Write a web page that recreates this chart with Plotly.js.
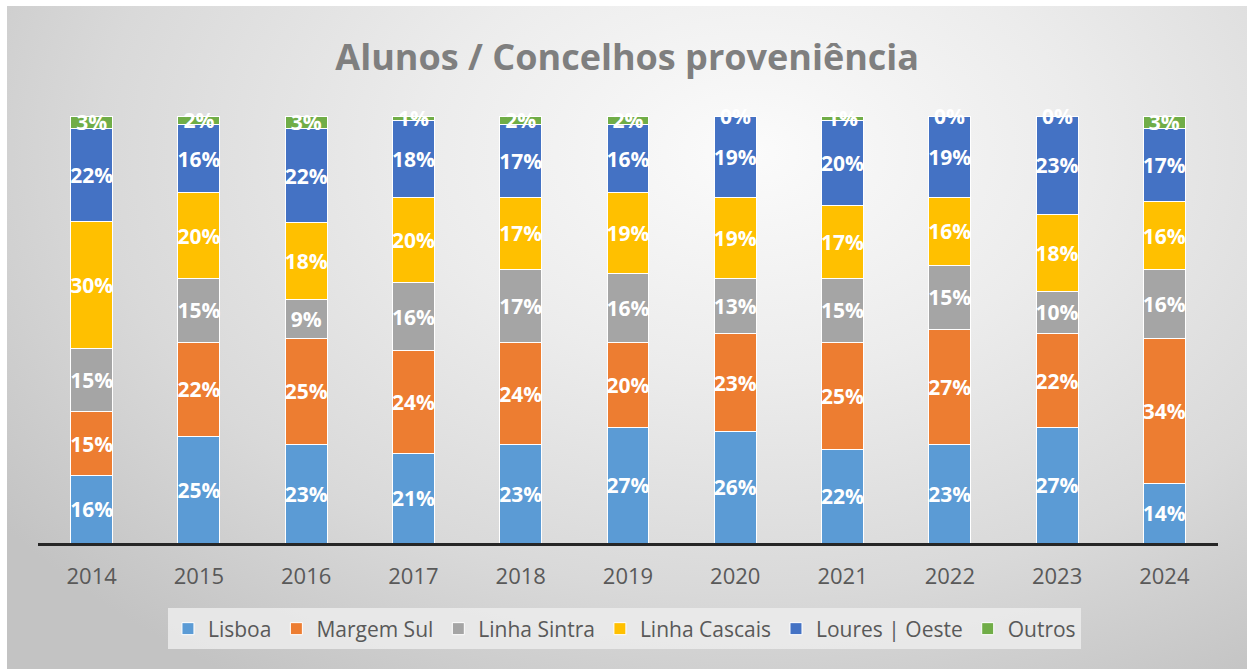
<!DOCTYPE html>
<html>
<head>
<meta charset="utf-8">
<script src="https://cdn.plot.ly/plotly-3.0.1.min.js"></script>
<style>
  html, body { margin:0; padding:0; background:#ffffff; width:1247px; height:669px; overflow:hidden; }
  #bg { position:absolute; left:7px; top:6px; width:1240px; height:663px;
        background: radial-gradient(ellipse 75% 95% at 60% 22%, #fbfbfb 0%, #ececec 35%, #d9d9d9 70%, #c3c3c3 100%); }
  #chart { position:absolute; left:0; top:0; width:1247px; height:669px; }
</style>
</head>
<body>
<div id="bg"></div>
<div id="chart"></div>
<script>
const years = ["2014","2015","2016","2017","2018","2019","2020","2021","2022","2023","2024"];
const lisboa       = [16, 25, 23, 21, 23, 27, 26, 22, 23, 27, 14];
const margemSul    = [15, 22, 25, 24, 24, 20, 23, 25, 27, 22, 34];
const linhaSintra  = [15, 15,  9, 16, 17, 16, 13, 15, 15, 10, 16];
const linhaCascais = [30, 20, 18, 20, 17, 19, 19, 17, 16, 18, 16];
const louresOeste  = [22, 16, 22, 18, 17, 16, 19, 20, 19, 23, 17];
const outros       = [ 3,  2,  3,  1,  2,  2,  0,  1,  0,  0,  3];

const seriesNames  = ["Lisboa", "Margem Sul", "Linha Sintra", "Linha Cascais", "Loures | Oeste", "Outros"];
const seriesValues = [lisboa, margemSul, linhaSintra, linhaCascais, louresOeste, outros];
const seriesColors = ["#5B9BD5", "#ED7D31", "#A5A5A5", "#FFC000", "#4472C4", "#70AD47"];

const font = "'Open Sans', 'Noto Sans', sans-serif";
const mkLabelFont = () => ({ family: font, size: 21, color: "#ffffff", weight: "bold" });

const traces = seriesNames.map((name, i) => ({
  type: "bar",
  name: name,
  x: years,
  y: seriesValues[i],
  text: seriesValues[i].map(v => v + "%"),
  textposition: "inside",
  insidetextanchor: "middle",
  constraintext: "none",
  textangle: 0,
  cliponaxis: false,
  textfont: mkLabelFont(),
  marker: { color: seriesColors[i], line: { color: "#ffffff", width: 1 } },
  hoverinfo: "x+y+name"
}));

// Zero-valued top segments still carry a "0%" label at the top of the stack (as in the original)
const zeroAnnotations = [];
years.forEach((yr, j) => {
  if (outros[j] === 0) {
    zeroAnnotations.push({
      x: j, y: 100, xref: "x", yref: "y",
      text: "<b>0%</b>", showarrow: false,
      yanchor: "middle",
      font: mkLabelFont()
    });
  }
});

const layout = {
  width: 1247, height: 669,
  paper_bgcolor: "rgba(0,0,0,0)",
  plot_bgcolor: "rgba(0,0,0,0)",
  barmode: "stack",
  barnorm: "percent",
  bargap: 0.61,
  margin: { l: 38, r: 29, t: 116, b: 126 },
  title: {
    text: "<b>Alunos / Concelhos proveniência</b>",
    font: { family: font, size: 36, color: "#7F7F7F" },
    x: 0.503, xanchor: "center",
    y: 0.914, yanchor: "middle", yref: "container"
  },
  xaxis: {
    type: "category",
    categoryorder: "array", categoryarray: years,
    range: [-0.5, years.length - 0.5],
    showgrid: false,
    showline: true, linecolor: "#262626", linewidth: 3,
    ticks: "", ticklen: 0,
    ticklabelstandoff: 12,
    tickfont: { family: font, size: 22, color: "#595959" },
    fixedrange: true
  },
  yaxis: {
    range: [0, 100],
    visible: false,
    showgrid: false, zeroline: false,
    fixedrange: true
  },
  annotations: zeroAnnotations,
  showlegend: true,
  legend: {
    orientation: "h",
    x: 0.497, xanchor: "center",
    y: -0.2014, yanchor: "middle",
    bgcolor: "rgba(236,236,236,0.85)",
    font: { family: font, size: 21, color: "#595959" },
    traceorder: "normal",
    itemwidth: 30
  }
};

Plotly.newPlot("chart", traces, layout, { displayModeBar: false, staticPlot: true });
</script>
</body>
</html>
